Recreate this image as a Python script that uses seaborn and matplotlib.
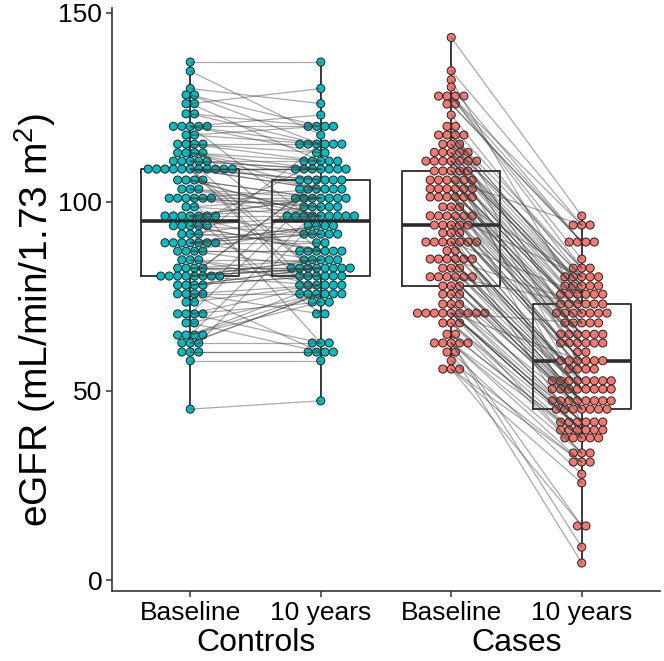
import matplotlib

matplotlib.use("Agg")
import matplotlib.pyplot as plt
import pandas as pd
import seaborn as sns

# eGFR per subject, paired by position (baseline -> 10 years)
controls_baseline = [
    137, 134.6, 130, 128.3, 128.3, 126, 126, 123.3, 123.3, 120,
    120, 120, 120, 120, 117.7, 117.7, 115.3, 115.3, 115.3, 115.3,
    113, 113, 113, 113, 110.8, 110.8, 110.8, 110.8, 110.8, 108.7,
    108.7, 108.7, 108.7, 108.7, 108.7, 108.7, 108.7, 108.7, 108.7, 108.7,
    105.8, 105.8, 105.8, 105.8, 103.4, 103.4, 103.4, 101, 101, 101,
    101, 101, 101, 98.7, 98.7, 96.3, 96.3, 96.3, 96.3, 96.3,
    96.3, 96.3, 93.7, 93.7, 93.7, 93.7, 93.7, 91.5, 91.5, 91.5,
    89.2, 89.2, 89.2, 89.2, 89.2, 89.2, 89.2, 87, 87, 87,
    87, 84.7, 84.7, 84.7, 82.5, 82.5, 82.5, 82.5, 80.4, 80.4,
    80.4, 80.4, 80.4, 80.4, 80.4, 80.4, 78, 78, 78, 78,
    75.7, 75.7, 75.7, 75.7, 73.5, 73.5, 70.4, 70.4, 70.4, 70.4,
    68, 68, 64.8, 64.8, 64.8, 64.8, 62.7, 62.7, 62.7, 60.3,
    60.3, 60.3, 58, 45.2,
]
controls_10y = [
    137, 117.7, 126, 115.3, 120, 110.8, 130, 115.3, 120, 113,
    123, 93.7, 115.3, 120, 115.3, 120, 110.8, 87, 113, 115.3,
    108.7, 105.8, 110.8, 103.4, 80.4, 108.7, 103.4, 108.7, 110.8, 73.5,
    103.4, 108.7, 105.8, 108.7, 75.7, 105.8, 108.7, 103.4, 108.7, 80.4,
    101, 96.3, 101, 96.3, 98.7, 101, 96.3, 98.7, 103.4, 62.7,
    96.3, 101, 98.7, 101, 96.3, 98.7, 101, 70.4, 101, 96.3,
    91.5, 87, 96.3, 87, 91.5, 110.8, 87, 91.5, 96.3, 89.2,
    84.7, 93.7, 91.5, 93.7, 115.3, 89.2, 91.5, 87, 93.7, 87,
    82.5, 80.4, 84.7, 78, 82.5, 84.7, 80.4, 82.5, 84.7, 105.8,
    78, 82.5, 82.5, 84.7, 105.8, 82.5, 82.5, 80.4, 82.5, 80.4,
    75.7, 70.4, 78, 60.3, 105.8, 78, 62.7, 103.4, 78, 73.5,
    60.3, 75.7, 75.7, 78, 98.7, 73.5, 75.7, 62.7, 75.7, 96.3,
    60.3, 60.3, 58, 47.4,
]
cases_baseline = [
    143.5, 134.7, 132.3, 130.4, 128, 128, 128, 128, 125.9, 125.9,
    123, 120, 120, 117.7, 117.7, 117.7, 117.7, 115.3, 115.3, 115.3,
    113.1, 113.1, 113.1, 113.1, 113.1, 110.8, 110.8, 110.8, 110.8, 110.8,
    110.8, 110.8, 108.2, 108.2, 108.2, 108.2, 108.2, 105.8, 105.8, 105.8,
    105.8, 105.8, 105.8, 103.5, 103.5, 103.5, 103.5, 103.5, 103.5, 101.3,
    101.3, 101.3, 101.3, 101.3, 101.3, 98.7, 98.7, 98.7, 96.3, 96.3,
    96.3, 96.3, 96.3, 96.3, 93.9, 93.9, 93.9, 93.9, 93.9, 91.8,
    91.8, 91.8, 89.4, 89.4, 89.4, 89.4, 89.4, 89.4, 89.4, 87.1,
    87.1, 84.9, 84.9, 84.9, 84.9, 84.9, 84.9, 82.5, 82.5, 82.5,
    80.2, 80.2, 80.2, 80.2, 80.2, 80.2, 77.8, 77.8, 77.8, 75.6,
    75.6, 75.6, 73, 73, 73, 70.6, 70.6, 70.6, 70.6, 70.6,
    70.6, 70.6, 70.6, 70.6, 68, 68, 68, 65, 65, 62.7,
    62.7, 62.7, 62.7, 62.7, 60.3, 60.3, 58, 55.8, 55.8, 55.8,
]
cases_10y = [
    96.3, 93.9, 73, 89.4, 93.9, 84.9, 89.4, 82.5, 89.4, 89.4,
    80.2, 62.7, 82.5, 77.8, 55.8, 77.8, 82.5, 80.2, 77.8, 80.2,
    52.7, 75.6, 77.8, 73, 75.6, 45.2, 77.8, 75.6, 75.6, 75.6,
    73, 70.6, 50.5, 70.6, 70.6, 70.6, 73, 70.6, 70.6, 93.9,
    68, 65, 70.6, 65, 68, 65, 68, 41.8, 65, 68,
    62.7, 62.7, 65, 60.3, 80.2, 60.3, 65, 62.7, 62.7, 62.7,
    58, 80.2, 58, 55.8, 58, 55.8, 58, 58, 55.8, 37.6,
    52.7, 52.7, 52.7, 50.5, 52.7, 50.5, 75.6, 52.7, 52.7, 52.7,
    50.5, 47.4, 50.5, 47.4, 73, 47.4, 50.5, 50.5, 47.4, 50.5,
    47.4, 45.2, 47.4, 45.2, 73, 45.2, 47.4, 45.2, 45.2, 47.4,
    41.8, 41.8, 45.2, 39.7, 41.8, 39.7, 41.8, 68, 39.7, 41.8,
    39.7, 58, 39.7, 33.6, 37.6, 33.6, 39.7, 37.6, 37.6, 37.6,
    31.2, 14.3, 33.6, 8.7, 28, 4.5, 31.2, 25.7, 14.3, 31.2,
]

groups = ["Controls", "Cases"]
time_labels = ["Baseline", "10 years"]
y_ticks = [0, 50, 100, 150]

GROUP_COLORS = {"Controls": "#00BFC4", "Cases": "#F8766D"}
DOT_STEP = 0.0646  # horizontal spacing of stacked dots, in x units


def build_long() -> pd.DataFrame:
    series = {
        "Controls": (controls_baseline, controls_10y),
        "Cases": (cases_baseline, cases_10y),
    }
    rows = []
    for gi, group in enumerate(groups):
        base, follow = series[group]
        for i, (b, f) in enumerate(zip(base, follow)):
            sid = f"{group}-{i}"
            rows.append({"group": group, "id": sid, "pos": gi * 2, "egfr": b})
            rows.append({"group": group, "id": sid, "pos": gi * 2 + 1, "egfr": f})
    df = pd.DataFrame(rows)
    # centred dot stacking, like a dotplot
    grp = df.groupby(["pos", "egfr"])
    n = grp["egfr"].transform("size")
    k = grp.cumcount()
    df["xdot"] = df["pos"] + (k - (n - 1) / 2) * DOT_STEP
    return df


df = build_long()

sns.set_theme(style="ticks")
plt.rcParams["font.family"] = ["Liberation Sans", "DejaVu Sans"]
plt.rcParams["mathtext.fontset"] = "custom"
plt.rcParams["mathtext.rm"] = "Liberation Sans"
plt.rcParams["text.color"] = "black"
plt.rcParams["axes.labelcolor"] = "black"

fig = plt.figure(figsize=(6.64, 6.61), dpi=100)
ax = fig.add_axes([112 / 664, 70 / 661, 548 / 664, 583 / 661])

sns.boxplot(
    data=df, x="pos", y="egfr", native_scale=True, fill=False,
    color="#2a2a2a", width=0.75, showfliers=False, showcaps=False,
    linewidth=1.3, medianprops={"linewidth": 2.6}, ax=ax,
)
sns.scatterplot(
    data=df, x="xdot", y="egfr", hue="group", palette=GROUP_COLORS,
    s=34, edgecolor="#222222", linewidth=0.7, legend=False, ax=ax, zorder=3,
)
sns.lineplot(
    data=df, x="pos", y="egfr", units="id", estimator=None,
    color="#404040", alpha=0.45, linewidth=0.9, ax=ax, zorder=4,
)

ax.set_xlim(-0.6, 3.6)
ax.set_ylim(-2.9, 151.3)
ax.set_yticks(y_ticks)
ax.set_xticks([0, 1, 2, 3])
ax.set_xticklabels(time_labels * 2)
ax.set_xlabel("")
ax.set_ylabel("eGFR (mL/min/1.73 m$^2$)", fontsize=28)
ax.yaxis.set_label_coords(-0.098, 0.465)
ax.tick_params(labelsize=19, length=4, width=1.1, color="#333333",
               labelcolor="black", pad=3)
for side in ["left", "bottom"]:
    ax.spines[side].set_linewidth(1.2)
    ax.spines[side].set_color("#333333")
sns.despine(ax=ax)

for gi, group in enumerate(groups):
    ax.text(gi * 2 + 0.5, -0.089, group, transform=ax.get_xaxis_transform(),
            ha="center", va="center", fontsize=23)

fig.savefig("out.png", dpi=100)
